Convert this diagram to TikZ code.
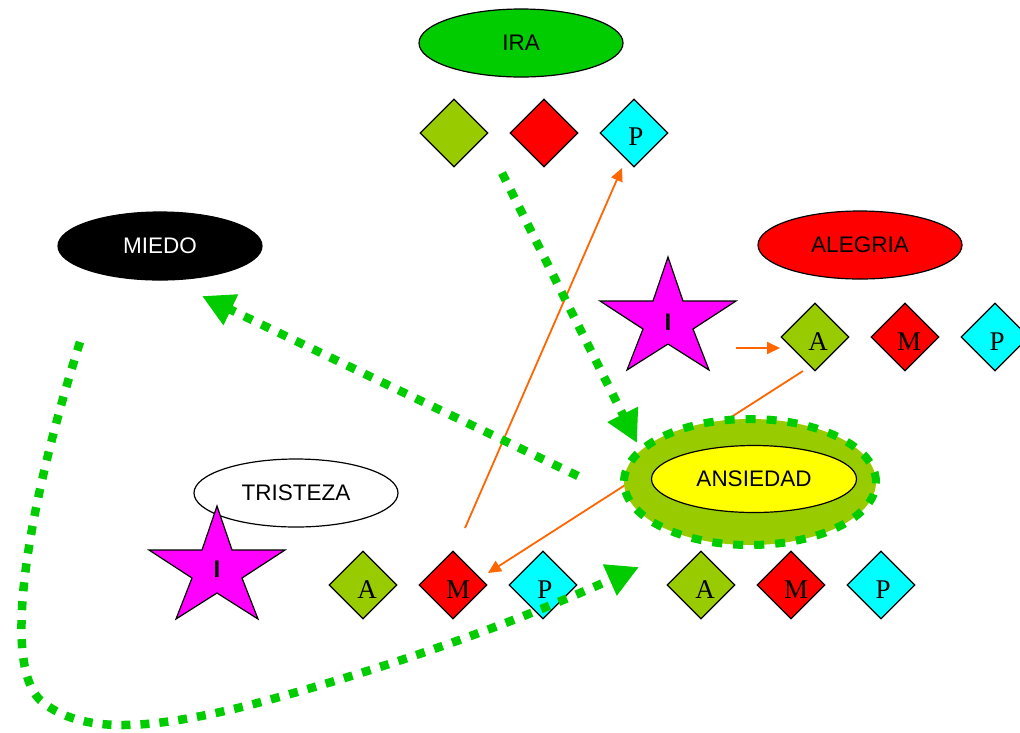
\documentclass[tikz,border=0pt]{standalone}
\usepackage{fontspec}
\setmainfont{Liberation Serif}
\setsansfont{Liberation Sans}
\usetikzlibrary{shapes.geometric,arrows.meta}
\definecolor{gr}{HTML}{00CC00}
\definecolor{olive}{HTML}{99CC00}
\definecolor{rd}{HTML}{FF0000}
\definecolor{cy}{HTML}{00FFFF}
\definecolor{mag}{HTML}{FF00FF}
\definecolor{yel}{HTML}{FFFF00}
\definecolor{org}{HTML}{FF6600}
\begin{document}
\begin{tikzpicture}[x=1pt,y=-1pt,
  ell/.style={ellipse, draw=black, line width=1.2pt, minimum width=204pt, minimum height=68pt, inner sep=0pt, font=\sffamily\fontsize{22.5}{22.5}\selectfont},
  dia/.style={diamond, draw=black, line width=1.2pt, minimum width=68pt, minimum height=68pt, inner sep=0pt},
  lett/.style={inner sep=0pt, font=\fontsize{27}{27}\selectfont},
  starsty/.style={draw=black, line width=1.2pt, fill=mag, line join=miter},
  starlab/.style={inner sep=0pt, font=\sffamily\bfseries\fontsize{24}{24}\selectfont},
  gdot/.style={draw=gr, line width=8.5pt, dash pattern=on 9pt off 10pt, -{Triangle[length=32pt,width=32pt]}},
  oarr/.style={draw=org, line width=1.8pt, -{Triangle[length=13pt,width=12pt]}},
]
\useasboundingbox (0,0) rectangle (1020,732);
\fill[white] (0,0) rectangle (1020,732);

% ellipses
\node[ell, fill=gr] (ira) at (521,43) {IRA};
\node[ell, fill=black, text=white] (miedo) at (160,246) {MIEDO};
\node[ell, fill=rd] (alegria) at (860,245) {ALEGRIA};
\node[ell, fill=white] (tri) at (296,493) {TRISTEZA};

% IRA diamonds
\node[dia, fill=olive] (ira-a) at (454,133) {};
\node[dia, fill=rd] (ira-m) at (544,133) {};
\node[dia, fill=cy] (ira-p) at (634,133) {};
\node[lett] (ira-pl) at (636,137) {P};

% ALEGRIA star and diamonds
\draw[starsty, shift={(668,257)}] (0,0) -- (15,44) -- (68,44) -- (25,72) -- (41,113) -- (0,87) -- (-41,113) -- (-25,72) -- (-68,44) -- (-15,44) -- cycle;
\node[starlab] (s1) at (668,322) {I};
\node[dia, fill=olive] (ale-a) at (815,337) {};
\node[dia, fill=rd] (ale-m) at (905,337) {};
\node[dia, fill=cy] (ale-p) at (995,337) {};
\node[lett] (ale-al) at (818,342) {A};
\node[lett] (ale-ml) at (909,342) {M};
\node[lett] (ale-pl) at (997,342) {P};

% TRISTEZA star and diamonds
\draw[starsty, shift={(217,506)}] (0,0) -- (15,44) -- (68,44) -- (25,72) -- (41,113) -- (0,87) -- (-41,113) -- (-25,72) -- (-68,44) -- (-15,44) -- cycle;
\node[starlab] (s2) at (217,569) {I};
\node[dia, fill=olive] (tri-a) at (363,585) {};
\node[dia, fill=rd] (tri-m) at (453,585) {};
\node[dia, fill=cy] (tri-p) at (543,585) {};
\node[lett] (tri-al) at (367,590) {A};
\node[lett] (tri-ml) at (458,590) {M};
\node[lett] (tri-pl) at (545,590) {P};

% ANSIEDAD diamonds
\node[dia, fill=olive] (ans-a) at (701,585) {};
\node[dia, fill=rd] (ans-m) at (791,585) {};
\node[dia, fill=cy] (ans-p) at (881,585) {};
\node[lett] (ans-al) at (705,590) {A};
\node[lett] (ans-ml) at (796,590) {M};
\node[lett] (ans-pl) at (883,590) {P};

% orange connectors
\coordinate (o1s) at (465,528);
\coordinate (o1e) at (622,168);
\coordinate (o2s) at (803,371);
\coordinate (o2e) at (488,573);
\coordinate (o3s) at (736,348);
\coordinate (o3e) at (780,348);
\draw[oarr] (o1s) -- (o1e);
\draw[oarr] (o2s) -- (o2e);
\draw[oarr] (o3s) -- (o3e);

% ANSIEDAD
\node[ellipse, fill=olive, draw=gr, line width=8pt, dash pattern=on 10pt off 11pt, minimum width=252pt, minimum height=126pt, inner sep=0pt] (ans) at (750,482) {};
\node[ell, fill=yel, minimum width=205pt, minimum height=67pt] (ans-in) at (754,479) {ANSIEDAD};

% green dotted connectors
\coordinate (g1s) at (502,173);
\coordinate (g1e) at (637,443);
\coordinate (g2s) at (578,476);
\coordinate (g2e) at (202,296);
\coordinate (g3s) at (80,342);
\coordinate (g3e) at (639,567);
\draw[gdot] (g1s) -- (g1e);
\draw[gdot] (g2s) -- (g2e);
\draw[gdot] (g3s) .. controls (30,500) and (0,660) .. (40,700) .. controls (80,735) and (150,730) .. (250,705) .. controls (400,665) and (520,620) .. (g3e);
\end{tikzpicture}
\end{document}
